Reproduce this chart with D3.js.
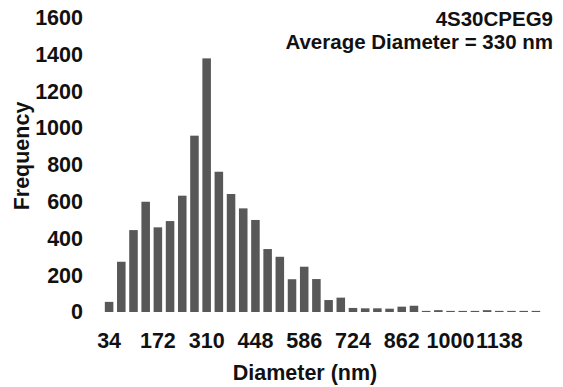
<!DOCTYPE html>
<html>
<head>
<meta charset="utf-8">
<script src="https://cdn.jsdelivr.net/npm/d3@7"></script>
<style>
  html, body { margin: 0; padding: 0; background: #fff; }
  svg { display: block; font-family: "Liberation Sans", Arial, sans-serif; font-weight: bold; }
</style>
</head>
<body>
<svg id="chart" width="563" height="387"></svg>
<script>
// Histogram bins: bin centres (nm), step 34.5 nm
const binCenters = [34, 68.5, 103, 137.5, 172, 206.5, 241, 275.5, 310, 344.5, 379, 413.5,
  448, 482.5, 517, 551.5, 586, 620.5, 655, 689.5, 724, 758.5, 793, 827.5,
  862, 896.5, 931, 965.5, 1000, 1034.5, 1069, 1103.5, 1138, 1172.5, 1207, 1241.5];

// Counts per bin
const frequency = [55, 273, 445, 599, 460, 494, 632, 958, 1378, 762, 641, 563,
  500, 342, 300, 178, 246, 179, 65, 78, 22, 20, 20, 18,
  29, 34, 6, 10, 6, 6, 6, 10, 6, 6, 6, 6];

// Labelled bins on the x axis
const xTickLabels = [34, 172, 310, 448, 586, 724, 862, 1000, 1138];
const yTicks = [0, 200, 400, 600, 800, 1000, 1200, 1400, 1600];

const sampleName = "4S30CPEG9";
const averageText = "Average Diameter = 330 nm";

const FONT = 21.5;
const TITLE_FONT = 20.5;
const INK = "#111";

const svg = d3.select("#chart");

const x = d3.scaleBand()
  .domain(binCenters)
  .range([103, 542])
  .paddingInner(0.3)
  .paddingOuter(0.15);

const y = d3.scaleLinear()
  .domain([0, 1600])
  .range([312, 17.5]);

// Bars
svg.append("g")
  .selectAll("rect")
  .data(binCenters.map((c, i) => ({ c, v: frequency[i] })))
  .join("rect")
  .attr("x", d => x(d.c))
  .attr("width", x.bandwidth())
  .attr("y", d => y(d.v))
  .attr("height", d => y(0) - y(d.v))
  .attr("fill", "#585858");

// Y axis (labels only)
const yAxis = d3.axisLeft(y)
  .tickValues(yTicks)
  .tickSize(0)
  .tickPadding(0)
  .tickFormat(d3.format("d"));
const gy = svg.append("g").attr("transform", "translate(83,0)").call(yAxis);
gy.select(".domain").remove();
gy.selectAll("text")
  .attr("font-family", "Liberation Sans, Arial, sans-serif")
  .attr("font-weight", "bold")
  .attr("font-size", FONT)
  .attr("fill", INK);

// X axis (labels only, every 4th bin)
const xAxis = d3.axisBottom(x)
  .tickValues(binCenters.filter(c => xTickLabels.includes(c)))
  .tickSize(0)
  .tickPadding(0)
  .tickFormat(d3.format("d"));
const gx = svg.append("g").attr("transform", "translate(0,333)").call(xAxis);
gx.select(".domain").remove();
gx.selectAll("text")
  .attr("font-family", "Liberation Sans, Arial, sans-serif")
  .attr("font-weight", "bold")
  .attr("font-size", FONT)
  .attr("fill", INK);

// Axis titles
svg.append("text")
  .attr("x", 305)
  .attr("y", 380)
  .attr("text-anchor", "middle")
  .attr("font-size", FONT)
  .attr("fill", INK)
  .text("Diameter (nm)");

svg.append("text")
  .attr("transform", "translate(29,156) rotate(-90)")
  .attr("text-anchor", "middle")
  .attr("font-size", FONT)
  .attr("fill", INK)
  .text("Frequency");

// Annotation in the upper right
svg.append("text")
  .attr("x", 553)
  .attr("y", 26)
  .attr("text-anchor", "end")
  .attr("font-size", TITLE_FONT)
  .attr("fill", INK)
  .text(sampleName);

svg.append("text")
  .attr("x", 553)
  .attr("y", 49)
  .attr("text-anchor", "end")
  .attr("font-size", TITLE_FONT)
  .attr("fill", INK)
  .text(averageText);
</script>
</body>
</html>
